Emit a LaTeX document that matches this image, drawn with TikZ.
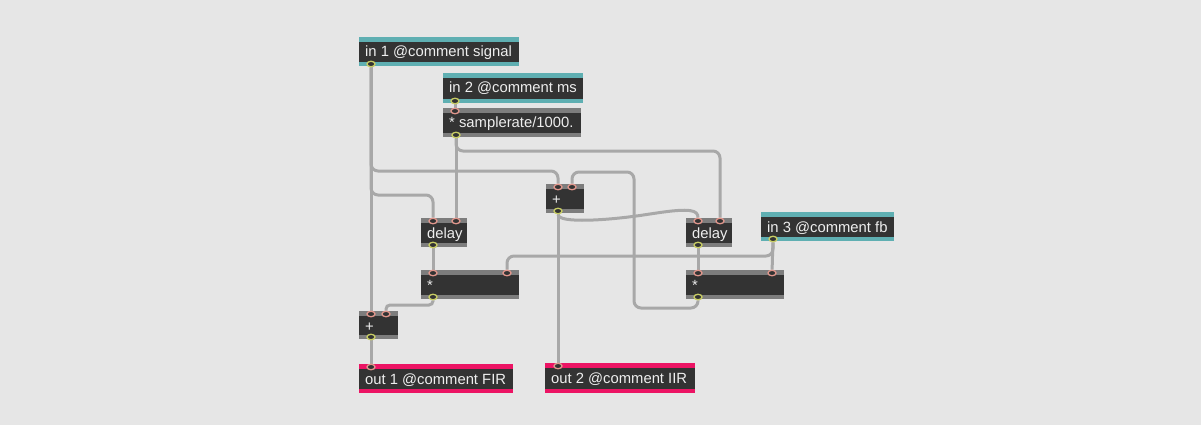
\documentclass[tikz,border=0pt]{standalone}
\usepackage{fontspec}
\setmainfont{Liberation Sans}
\usetikzlibrary{calc,shapes.geometric}
\pgfdeclarelayer{bg}\pgfdeclarelayer{cords}
\pgfsetlayers{bg,cords,main}
\definecolor{bgc}{RGB}{230,230,230}
\definecolor{objdark}{RGB}{51,51,51}
\definecolor{objband}{RGB}{125,125,125}
\definecolor{inteal}{RGB}{95,175,178}
\definecolor{outpink}{RGB}{236,20,100}
\definecolor{cordc}{RGB}{168,168,168}
\definecolor{inletc}{RGB}{224,150,140}
\definecolor{outletc}{RGB}{200,205,100}
\definecolor{txtc}{RGB}{238,238,238}
\tikzset{
  objtext/.style={anchor=base west, inner sep=0pt, text=txtc, font=\fontsize{14.8}{16}\selectfont},
  cord/.style={draw=cordc, line width=3pt, rounded corners=7pt},
  portbase/.style={ellipse, minimum width=8pt, minimum height=5.5pt, inner sep=0pt, fill=objdark, line width=1.3pt},
  inletp/.style={portbase, draw=inletc},
  outletp/.style={portbase, draw=outletc}
}
% name, x1, y1, x2, y2, band colour, text
\newcommand\maxobj[7]{%
  \fill[#6] (#2,#3) rectangle (#4,#5);
  \fill[objdark] (#2,#3+5) rectangle (#4,#5-4);
  \node[objtext] (#1) at (#2+6,#3+20) {#7};
}
\newcommand\inport[3]{\node[inletp] (#1) at (#2,#3) {};}
\newcommand\outport[3]{\node[outletp] (#1) at (#2,#3) {};}
\begin{document}
\begin{tikzpicture}[x=1pt,y=-1pt]
\begin{pgfonlayer}{bg}
  \fill[bgc] (0,0) rectangle (1201,425);
\end{pgfonlayer}
\useasboundingbox (0,0) rectangle (1201,425);

% objects
\maxobj{in1}{359}{37}{519}{66}{inteal}{in 1 @comment signal}
\maxobj{in2}{443}{73}{583}{103}{inteal}{in 2 @comment ms}
\maxobj{smp}{443}{108}{581}{137}{objband}{* samplerate/1000.}
\maxobj{plusA}{546}{184}{584}{213}{objband}{+}
\maxobj{dlA}{421}{218}{467}{247}{objband}{delay}
\maxobj{dlB}{686}{218}{732}{247}{objband}{delay}
\maxobj{in3}{761}{212}{894}{241}{inteal}{in 3 @comment fb}
\maxobj{mulA}{421}{270}{519}{299}{objband}{*}
\maxobj{mulB}{686}{270}{784}{299}{objband}{*}
\maxobj{plusB}{359}{311}{398}{339}{objband}{+}
\maxobj{out1}{359}{364}{513}{393}{outpink}{out 1 @comment FIR}
\maxobj{out2}{545}{363}{695}{393}{outpink}{out 2 @comment IIR}

% ports
\outport{in1o}{371}{64}
\outport{in2o}{455}{101}
\inport{smpi}{455}{111}
\outport{smpo}{456}{135}
\inport{plusAi1}{558}{187}
\inport{plusAi2}{572}{187}
\outport{plusAo}{558}{211}
\inport{dlAi1}{433}{221}
\inport{dlAi2}{456}{221}
\outport{dlAo}{433}{245}
\inport{dlBi1}{698}{221}
\inport{dlBi2}{720}{221}
\outport{dlBo}{698}{245}
\outport{in3o}{773}{239}
\inport{mulAi1}{433}{273}
\inport{mulAi2}{507}{273}
\outport{mulAo}{433}{297}
\inport{mulBi1}{698}{273}
\inport{mulBi2}{772}{273}
\outport{mulBo}{698}{297}
\inport{plusBi1}{371}{314}
\inport{plusBi2}{386}{314}
\outport{plusBo}{371}{337}
\inport{out1i}{371}{367}
\inport{out2i}{558}{366}

\begin{pgfonlayer}{cords}
  \draw[cord] (in1o) -- (plusBi1);
  \draw[cord] (in1o) -- ++(0,107) -| (plusAi1);
  \draw[cord] (in1o) -- ++(0,131) -| (dlAi1);
  \draw[cord] (in2o) -- (smpi);
  \draw[cord] (smpo) -- (dlAi2);
  \draw[cord] (smpo) -- ++(0,16) -| (dlBi2);
  \draw[cord] (plusAo) .. controls (558,224) and (610,220) .. (650,214)
              .. controls (690,208) and (698,210) .. (dlBi1);
  \draw[cord] (mulBo) -- ++(0,11) -- (634,308) -- (634,172) -| (plusAi2);
  \draw[cord] (dlAo) -- (mulAi1);
  \draw[cord] (in3o) -- ++(0,17) -| (mulAi2);
  \draw[cord] (in3o) -- (mulBi2);
  \draw[cord] (dlBo) -- (mulBi1);
  \draw[cord, rounded corners=4pt] (mulAo) -- ++(0,8) -| (plusBi2);
  \draw[cord] (plusBo) -- (out1i);
  \draw[cord] (plusAo) -- (out2i);
\end{pgfonlayer}
\end{tikzpicture}
\end{document}
